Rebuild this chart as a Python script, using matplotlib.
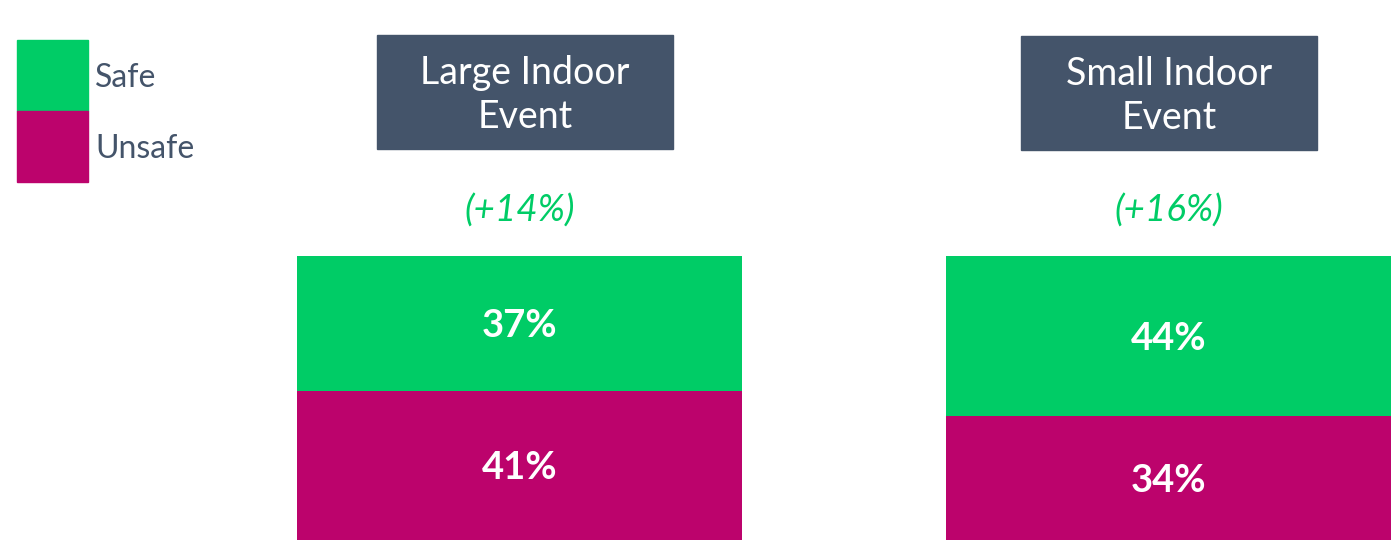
import matplotlib.pyplot as plt
from matplotlib.patches import Rectangle

plt.rcParams['font.family'] = ['Lato', 'DejaVu Sans']

events = ["Large Indoor\nEvent", "Small Indoor\nEvent"]
safe = [37, 44]
unsafe = [41, 34]
change = ["(+14%)", "(+16%)"]

GREEN = "#00CC66"
MAGENTA = "#BC036C"
SLATE = "#44546A"

W, H = 1395, 548
fig = plt.figure(figsize=(W / 100, H / 100), dpi=100)

# bars live in an axes spanning the plot area, pixel units converted to figure fractions
left, right, bottom = 297, 1391, 540
px_per_pct = 3.64
ax = fig.add_axes([left / W, (H - bottom) / H, (right - left) / W, 100 * px_per_pct / H])
x = [0, 1]
bw = 445 / 649.5
ax.set_xlim(-bw / 2, 1 + bw / 2)
ax.set_ylim(0, 100)
ax.axis("off")

ax.bar(x, unsafe, width=bw, color=MAGENTA)
ax.bar(x, safe, width=bw, bottom=unsafe, color=GREEN)
for xi, s, u in zip(x, safe, unsafe):
    ax.text(xi, u / 2, f"{u}%", ha="center", va="center_baseline",
            color="white", fontsize=27.5, fontweight="bold")
    ax.text(xi, u + s / 2, f"{s}%", ha="center", va="center_baseline",
            color="white", fontsize=27.5, fontweight="bold")

for xi, s, u, c in zip(x, safe, unsafe, change):
    ax.annotate(c, (xi, s + u), xytext=(0, 33), textcoords="offset points",
                ha="center", va="center", color=GREEN, fontsize=26.5, style="italic")

# event headers
boxes = [(377, 35, 673, 149), (1021, 36, 1317, 150)]
for (x0, y0, x1, y1), name in zip(boxes, events):
    fig.patches.append(Rectangle((x0 / W, 1 - y1 / H), (x1 - x0) / W, (y1 - y0) / H,
                                 transform=fig.transFigure, color=SLATE))
    fig.text((x0 + x1) / 2 / W, 1 - ((y0 + y1) / 2 + 3) / H, name, ha="center", va="center",
             color="white", fontsize=27, linespacing=1.3)

# legend
for (y0, y1), col, lab in [((40, 111), GREEN, "Safe"), ((111, 182), MAGENTA, "Unsafe")]:
    fig.patches.append(Rectangle((17 / W, 1 - y1 / H), 71 / W, (y1 - y0) / H,
                                 transform=fig.transFigure, color=col))
    fig.text(95 / W, 1 - ((y0 + y1) / 2 + 2) / H, lab, ha="left", va="center",
             color=SLATE, fontsize=23)

fig.savefig("out.png", dpi=100)
